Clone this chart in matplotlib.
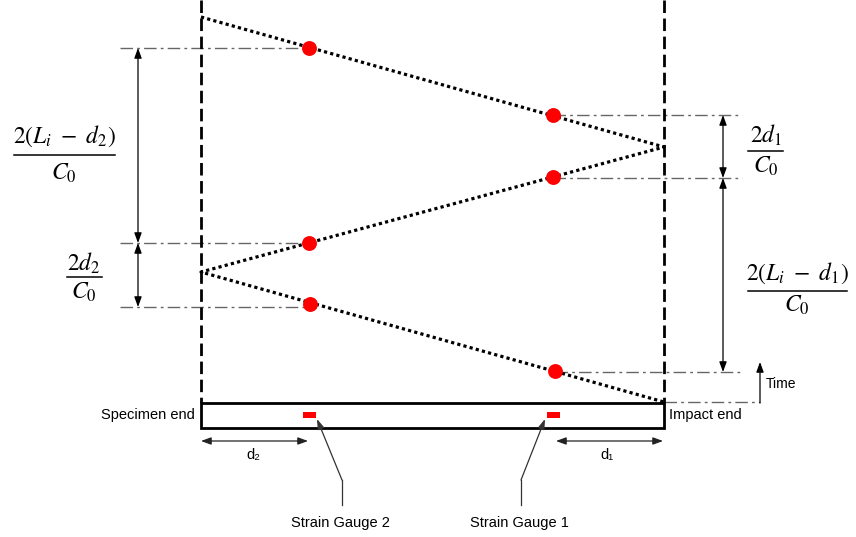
import matplotlib
matplotlib.use("Agg")
import matplotlib.pyplot as plt
from matplotlib.patches import Rectangle

plt.rcParams['font.family'] = ['Liberation Sans', 'DejaVu Sans']
plt.rcParams['mathtext.fontset'] = 'stix'

# ---- diagram data (pixel coordinates of the reference layout) ----
bar_left, bar_right = 201, 664
bar_top, bar_bottom = 403, 428
wave_x = [201, 664, 201, 664]
wave_y = [17, 147, 272, 402]
dot_x = [309, 553, 553, 309, 310, 555]
dot_y = [48, 115, 177, 243, 304, 371]
gauge_x = [309, 553]
gauge_names = ["Strain Gauge 2", "Strain Gauge 1"]
left_levels = [48, 243, 307]
right_levels = [115, 178, 372]
left_labels = [(r"$2(L_i\ -\ d_2)$", r"$C_0$"), (r"$2d_2$", r"$C_0$")]
right_labels = [(r"$2d_1$", r"$C_0$"), (r"$2(L_i\ -\ d_1)$", r"$C_0$")]

fig = plt.figure(figsize=(8.56, 5.37), dpi=100)
ax = fig.add_axes([0, 0, 1, 1])
ax.set_xlim(0, 856)
ax.set_ylim(537, 0)
ax.axis('off')

# vertical dashed boundaries
for xv in (bar_left, bar_right):
    ax.plot([xv, xv], [0, bar_top], color='black', lw=2.0, ls=(0, (4.5, 2)), zorder=2)

# bar
ax.add_patch(Rectangle((bar_left, bar_top), bar_right - bar_left, bar_bottom - bar_top,
                       fill=False, ec='black', lw=2.0, zorder=3))

# wave path (dotted)
ax.plot(wave_x, wave_y, color='black', lw=2.3, ls=(0, (1, 1.0)), zorder=3)

# dash-dot reference lines
dd = dict(color='#666666', lw=1.0, ls=(0, (9, 3, 2, 3)), zorder=1)
ax.plot([120, dot_x[0]], [left_levels[0]] * 2, **dd)
ax.plot([120, dot_x[3]], [left_levels[1]] * 2, **dd)
ax.plot([120, dot_x[4]], [left_levels[2]] * 2, **dd)
ax.plot([dot_x[1], 742], [right_levels[0]] * 2, **dd)
ax.plot([dot_x[2], 742], [right_levels[1]] * 2, **dd)
ax.plot([dot_x[5], 742], [right_levels[2]] * 2, **dd)
ax.plot([bar_right, 760], [bar_top - 1] * 2, **dd)

# red points
ax.scatter(dot_x, dot_y, s=115, color='#ff0000', zorder=5, linewidths=0)

# dimension arrows
arr = dict(arrowstyle='<|-|>,head_length=0.6,head_width=0.22', color='black', lw=0.9,
           shrinkA=0, shrinkB=0)
lx, rx = 138, 723
ax.annotate('', xy=(lx, left_levels[0]), xytext=(lx, left_levels[1]), arrowprops=arr)
ax.annotate('', xy=(lx, left_levels[1]), xytext=(lx, left_levels[2]), arrowprops=arr)
ax.annotate('', xy=(rx, right_levels[0]), xytext=(rx, right_levels[1]), arrowprops=arr)
ax.annotate('', xy=(rx, right_levels[1]), xytext=(rx, right_levels[2]), arrowprops=arr)

# fraction labels
def frac(xc, y_num, y_line, y_den, x0, x1, num, den):
    ax.text(xc, y_num, num, ha='center', va='center', fontsize=17)
    ax.plot([x0, x1], [y_line, y_line], color='black', lw=1.1)
    ax.text(xc, y_den, den, ha='center', va='center', fontsize=17)

frac(64, 136, 155, 173, 14, 115, *left_labels[0])
frac(84, 263, 277, 292, 67, 102, *left_labels[1])
frac(766, 135, 151, 166, 748, 783, *right_labels[0])
frac(797, 273, 291, 305, 748, 847, *right_labels[1])

# time arrow
ax.annotate('', xy=(760, 362), xytext=(760, 403),
            arrowprops=dict(arrowstyle='-|>,head_length=0.6,head_width=0.22', color='black',
                            lw=0.9, shrinkA=0, shrinkB=0))
ax.text(766, 384, "Time", ha='left', va='center', fontsize=10)

# end labels
ax.text(195, 415, "Specimen end", ha='right', va='center', fontsize=10.5)
ax.text(669, 415, "Impact end", ha='left', va='center', fontsize=10.5)

# gauges
for gx in gauge_x:
    ax.add_patch(Rectangle((gx - 6, 412), 13, 6, color='#ff0000', lw=0, zorder=4))

# gauge leaders
lead = [(342, 317), (521, 545)]
for (vx, tipx), name in zip(lead, gauge_names):
    ax.plot([vx, vx], [505, 480], color='#333333', lw=0.9)
    ax.annotate('', xy=(tipx, 419), xytext=(vx, 480),
                arrowprops=dict(arrowstyle='-|>,head_length=0.6,head_width=0.2',
                                color='#333333', lw=0.9, shrinkA=0, shrinkB=0))
    ax.text(vx - 2, 523, name, ha='center', va='center', fontsize=10.5)

# d arrows
darr = dict(arrowstyle='<|-|>,head_length=0.6,head_width=0.22', color='#222222', lw=0.9,
            shrinkA=0, shrinkB=0)
ax.annotate('', xy=(201, 441), xytext=(308, 441), arrowprops=darr)
ax.annotate('', xy=(556, 441), xytext=(663, 441), arrowprops=darr)
ax.text(253, 455, "d\u2082", ha='center', va='center', fontsize=10.5)
ax.text(607, 455, "d\u2081", ha='center', va='center', fontsize=10.5)

fig.savefig("out.png", dpi=100)
